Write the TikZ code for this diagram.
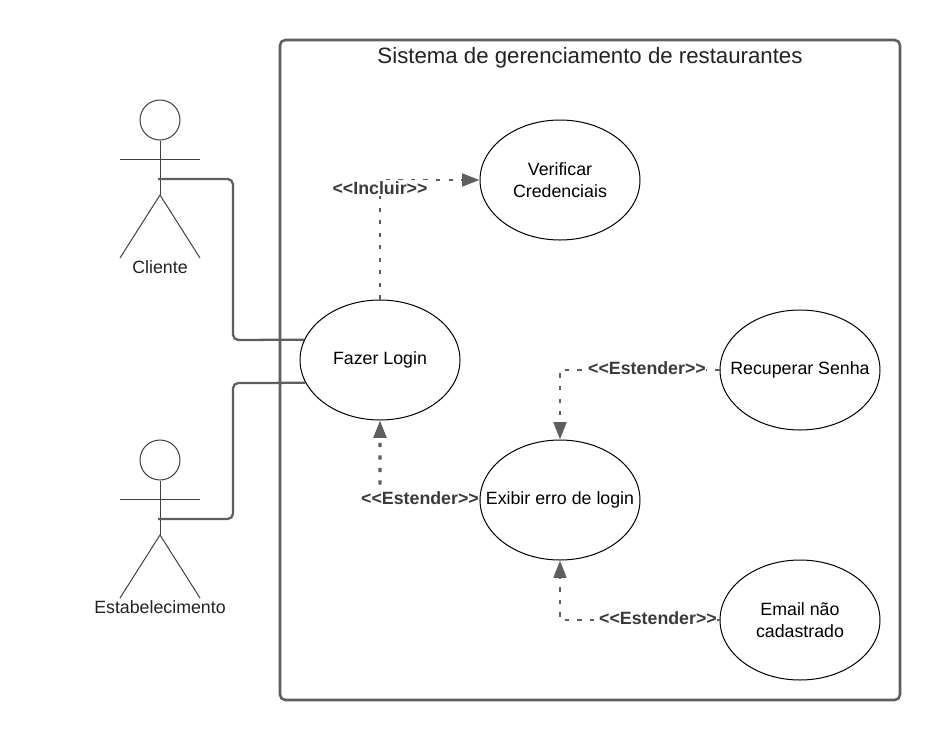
\documentclass[tikz,border=0pt]{standalone}
\usepackage{fontspec}
\setmainfont{Liberation Sans}
\usetikzlibrary{arrows.meta,shapes.geometric}
\definecolor{edgegray}{HTML}{5E5E5E}
\definecolor{labelgray}{HTML}{3A3A3A}
\definecolor{textdark}{HTML}{222222}
\newcommand{\nowide}[1]{\makebox[0pt]{#1}}
\newcommand{\guilL}{<{}<}
\newcommand{\guilR}{>{}>}
\tikzset{
  x=0.75pt,y=-0.75pt,
  usecase/.style={draw=black,line width=0.75pt,fill=white,ellipse,minimum width=120pt,minimum height=90pt,inner sep=0pt,align=center,text=black,font=\fontsize{13.33}{17}\selectfont},
  frameline/.style={draw=edgegray,line width=1.9pt,rounded corners=4pt},
  solidlink/.style={draw=edgegray,line width=1.7pt,rounded corners=4pt},
  dashlink/.style={draw=edgegray,line width=1.9pt,dash pattern=on 3.2pt off 6.2pt},
  tiplink/.style={-{Triangle[length=13pt,width=9.5pt,fill=edgegray]}},
  steretype/.style={fill=white,inner xsep=0.5pt,inner ysep=1pt,text=labelgray,font=\bfseries\fontsize{13.33}{15}\selectfont},
  actorline/.style={draw=black!75,line width=0.75pt},
  actorname/.style={text=textdark,inner sep=0pt,font=\fontsize{13.33}{15}\selectfont},
}
\begin{document}
\begin{tikzpicture}
\useasboundingbox (0,0) rectangle (940,740);
\path[fill=white] (0,0) rectangle (940,740);
% system frame
\node[inner sep=0pt,text=textdark,font=\fontsize{16.67}{20}\selectfont] (title) at (590,58) {Sistema de gerenciamento de restaurantes};
\draw[frameline] (280,40) rectangle (900,700);
% use cases
\node[usecase] (verificar) at (560,180) {\nowide{Verificar}\\\nowide{Credenciais}};
\node[usecase] (login) at (380,360) {\nowide{Fazer Login}};
\node[usecase] (erro) at (560,500) {\nowide{Exibir erro de login}};
\node[usecase] (senha) at (800,370) {\nowide{Recuperar Senha}};
\node[usecase] (email) at (800,620) {\nowide{Email não}\\\nowide{cadastrado}};
% actors
\node[circle,draw=black!75,line width=0.75pt,minimum size=30pt,inner sep=0pt] (headA) at (160,120) {};
\coordinate (hipA) at (160,195);
\coordinate (handA) at (158,179);
\draw[actorline] (headA.south) -- (hipA);
\draw[actorline] (120,159) -- (200,159);
\draw[actorline] (120,258) -- (hipA) -- (200,258);
\node[actorname] (cliente) at (160,267) {Cliente};
\node[circle,draw=black!75,line width=0.75pt,minimum size=30pt,inner sep=0pt] (headB) at (160,460) {};
\coordinate (hipB) at (160,535);
\coordinate (handB) at (158,519);
\draw[actorline] (headB.south) -- (hipB);
\draw[actorline] (120,499) -- (200,499);
\draw[actorline] (120,598) -- (hipB) -- (200,598);
\node[actorname] (estab) at (160,607) {Estabelecimento};
% solid associations
\draw[solidlink] (handA) -- (233,179) -- (233,340) -- (login.165);
\draw[solidlink] (handB) -- (233,519) -- (233,383) -- (login.197);
% dashed relations
\draw[dashlink,tiplink] (login.north) -- (380,180) -- (verificar.west);
\draw[dashlink,line width=2.4pt,tiplink] (erro.west) -- (380,498) -- (login.south);
\draw[dashlink,tiplink] (senha.west) -- (560,370) -- (erro.north);
\draw[dashlink,tiplink] (email.west) -- (560,620) -- (erro.south);
% labels
\node[steretype] (lblinc) at (380,188) {\guilL Incluir\guilR};
\node[steretype] (lblext) at (420,498) {\guilL Estender\guilR};
\node[steretype] (lblrec) at (647,368) {\guilL Estender\guilR};
\node[steretype] (lblema) at (658,618) {\guilL Estender\guilR};
\end{tikzpicture}
\end{document}
